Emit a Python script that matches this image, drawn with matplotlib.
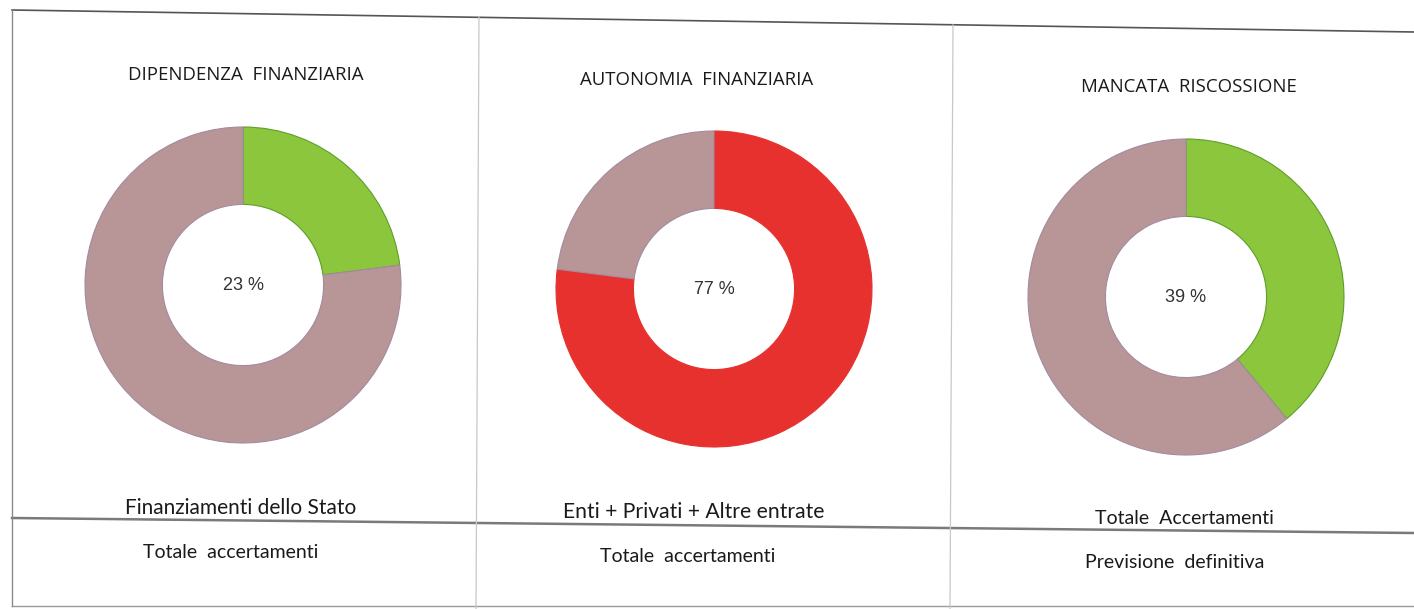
import matplotlib
matplotlib.use("Agg")
import matplotlib.pyplot as plt
from matplotlib.lines import Line2D

# Chart data
titles = ["DIPENDENZA  FINANZIARIA", "AUTONOMIA  FINANZIARIA", "MANCATA  RISCOSSIONE"]
numerators = ["Finanziamenti dello Stato", "Enti + Privati + Altre entrate", "Totale  Accertamenti"]
denominators = ["Totale  accertamenti", "Totale  accertamenti", "Previsione  definitiva"]
shares = [23, 77, 39]
highlightColors = ["#8cc63c", "#e6312f", "#8cc63c"]
restColor = "#b89697"

W, H = 1414, 609
fig = plt.figure(figsize=(W / 100, H / 100), dpi=100)
fig.patch.set_facecolor("white")

def fx(x):
    return x / W

def fy(y):
    return 1 - y / H

def line(x0, y0, x1, y1, color="#6e6e6e", lw=1.2):
    fig.add_artist(Line2D([fx(x0), fx(x1)], [fy(y0), fy(y1)], color=color, lw=lw, transform=fig.transFigure))

# Table grid (slightly skewed like the scan)
line(12, 10, 1414, 32, color="#555555", lw=1.2)
line(12, 518, 1414, 533, color="#7a7a7a", lw=1.8)
line(12, 606, 1414, 606, color="#9a9a9a", lw=1.0)
line(12, 10, 12, 606, color="#8a8a8a", lw=1.0)
line(479, 17, 476, 609, color="#c8c8cc", lw=0.9)
line(953, 25, 950, 609, color="#c8c8cc", lw=0.9)

# Donut centres and radius in pixels
centers = [(243, 285), (714, 289), (1186, 297)]
R = 158
titlePos = [(246, 75), (697, 80), (1189, 87)]
numPos = [(241, 508), (694, 512), (1184, 518)]
denPos = [(231, 552), (688, 557), (1175, 562)]
numSizes = [15, 15.2, 14]

for i in range(3):
    cx, cy = centers[i]
    ax = fig.add_axes([fx(cx - R), fy(cy + R), 2 * R / W, 2 * R / H])
    vals = [shares[i], 100 - shares[i]]
    edge = ["#5f9e2a" if highlightColors[i] != "#e6312f" else "#e6312f", "#a38aa0"]
    wedges, _ = ax.pie(vals, colors=[highlightColors[i], restColor], startangle=90, counterclock=False,
                       radius=1.0, wedgeprops=dict(width=0.49, linewidth=0.8))
    for w, e in zip(wedges, edge):
        w.set_edgecolor(e)
    ax.set_xlim(-1.0, 1.0)
    ax.set_ylim(-1.0, 1.0)
    ax.text(0, 0, f"{shares[i]} %", ha="center", va="center", fontsize=13,
            family="Liberation Sans", color="#333333")

    fig.text(fx(titlePos[i][0]), fy(titlePos[i][1]), titles[i], ha="center", va="center",
             fontsize=13.4, family="Open Sans", color="#1a1a1a")
    fig.text(fx(numPos[i][0]), fy(numPos[i][1]), numerators[i], ha="center", va="center",
             fontsize=numSizes[i], family="Lato", color="#1a1a1a")
    fig.text(fx(denPos[i][0]), fy(denPos[i][1]), denominators[i], ha="center", va="center",
             fontsize=14, family="Lato", color="#1a1a1a")

fig.savefig("out.png", dpi=100, facecolor="white")
